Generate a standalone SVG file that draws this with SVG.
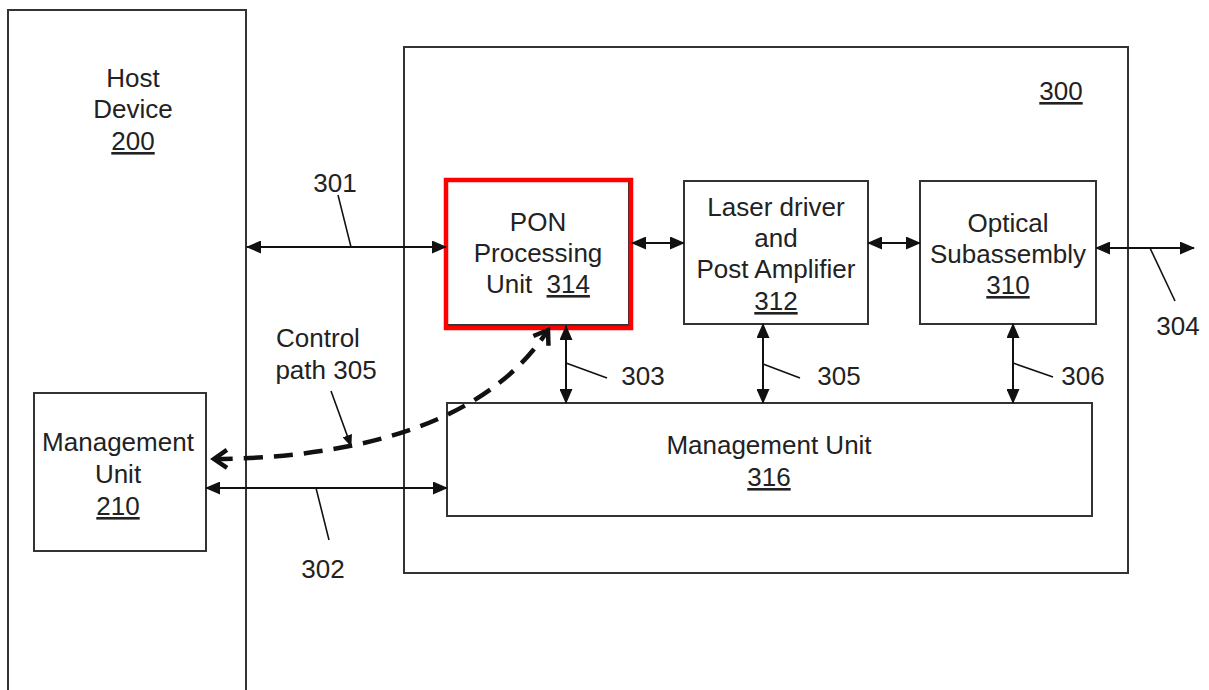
<svg xmlns="http://www.w3.org/2000/svg" width="1209" height="690" viewBox="0 0 1209 690">
<defs>
<style>
.box{fill:#fff;stroke:#333;stroke-width:2}
.red{fill:none;stroke:#f00;stroke-width:4.5}
.t{font-family:"Liberation Sans",Arial,sans-serif;font-size:26px;fill:#222;text-anchor:middle}
.u{text-decoration:underline}
.c{stroke:#111;stroke-width:2;fill:none}
.ld{stroke:#111;stroke-width:1.6;fill:none}
.dash{stroke:#111;stroke-width:4.5;fill:none;stroke-dasharray:19 11}
</style>
<marker id="arr" viewBox="0 0 15 13" refX="14" refY="6.5" markerWidth="15" markerHeight="13" markerUnits="userSpaceOnUse" orient="auto-start-reverse">
<path d="M0 0 L15 6.5 L0 13 Z" fill="#111"/>
</marker>
<marker id="sarr" viewBox="0 0 12 10" refX="11" refY="5" markerWidth="12" markerHeight="10" markerUnits="userSpaceOnUse" orient="auto">
<path d="M0 0 L12 5 L0 10 Z" fill="#111"/>
</marker>
<marker id="chev" viewBox="-16 -12 20 24" refX="0" refY="0" markerWidth="20" markerHeight="24" markerUnits="userSpaceOnUse" orient="auto-start-reverse">
<path d="M-13 -9 L0 0 L-13 9" fill="none" stroke="#111" stroke-width="4.5" stroke-linejoin="miter"/>
</marker>
</defs>
<rect width="1209" height="690" fill="#fff"/>

<g id="host200">
<rect class="box" x="8" y="10" width="238" height="700"/>
<text class="t" x="133" y="87">Host</text>
<text class="t" x="133" y="118">Device</text>
<text class="t" x="133" y="150"><tspan class="u">200</tspan></text>
</g>

<g id="mgmt210">
<rect class="box" x="34" y="393" width="172" height="158"/>
<text class="t" x="118" y="451">Management</text>
<text class="t" x="118" y="483">Unit</text>
<text class="t" x="118" y="515"><tspan class="u">210</tspan></text>
</g>

<g id="module300">
<rect class="box" x="404" y="47" width="724" height="526"/>
<text class="t" x="1061" y="100"><tspan class="u">300</tspan></text>
</g>

<g id="pon314">
<rect class="box" x="447" y="181" width="182" height="144"/>
<rect class="red" x="446" y="180" width="185" height="148"/>
<text class="t" x="538" y="231">PON</text>
<text class="t" x="538" y="262">Processing</text>
<text class="t" x="538" y="293">Unit <tspan class="u" dx="7">314</tspan></text>
</g>

<g id="laser312">
<rect class="box" x="684" y="181" width="184" height="143"/>
<text class="t" x="776" y="216">Laser driver</text>
<text class="t" x="776" y="247">and</text>
<text class="t" x="776" y="278">Post Amplifier</text>
<text class="t" x="776" y="310"><tspan class="u">312</tspan></text>
</g>

<g id="osa310">
<rect class="box" x="920" y="181" width="176" height="143"/>
<text class="t" x="1008" y="232">Optical</text>
<text class="t" x="1008" y="263">Subassembly</text>
<text class="t" x="1008" y="294"><tspan class="u">310</tspan></text>
</g>

<g id="mgmt316">
<rect class="box" x="447" y="403" width="645" height="113"/>
<text class="t" x="769" y="454">Management Unit</text>
<text class="t" x="769" y="486"><tspan class="u">316</tspan></text>
</g>

<g id="connectors">
<line class="c" x1="247" y1="247" x2="446" y2="247" marker-start="url(#arr)" marker-end="url(#arr)"/>
<line class="ld" x1="338" y1="195" x2="351" y2="247"/>
<text class="t" x="335" y="192">301</text>

<line class="c" x1="632" y1="243" x2="684" y2="243" marker-start="url(#arr)" marker-end="url(#arr)"/>
<line class="c" x1="868" y1="243" x2="920" y2="243" marker-start="url(#arr)" marker-end="url(#arr)"/>

<line class="c" x1="1096" y1="248" x2="1194" y2="248" marker-start="url(#arr)" marker-end="url(#arr)"/>
<line class="ld" x1="1150" y1="248" x2="1175" y2="301"/>
<text class="t" x="1178" y="335">304</text>

<line class="c" x1="566" y1="326" x2="566" y2="403" marker-start="url(#arr)" marker-end="url(#arr)"/>
<line class="ld" x1="566" y1="363" x2="607" y2="378"/>
<text class="t" x="643" y="385">303</text>

<line class="c" x1="763" y1="324" x2="763" y2="403" marker-start="url(#arr)" marker-end="url(#arr)"/>
<line class="ld" x1="763" y1="364" x2="800" y2="378"/>
<text class="t" x="839" y="385">305</text>

<line class="c" x1="1013" y1="324" x2="1013" y2="403" marker-start="url(#arr)" marker-end="url(#arr)"/>
<line class="ld" x1="1013" y1="363" x2="1053" y2="377"/>
<text class="t" x="1083" y="385">306</text>

<line class="c" x1="206" y1="488" x2="447" y2="488" marker-start="url(#arr)" marker-end="url(#arr)"/>
<line class="ld" x1="316" y1="488" x2="329" y2="540"/>
<text class="t" x="323" y="578">302</text>

<path class="dash" d="M 214 459 C 330 458, 480 435, 548 330" marker-start="url(#chev)" marker-end="url(#chev)"/>
<line class="ld" x1="331" y1="391" x2="351" y2="446" marker-end="url(#sarr)"/>
<text class="t" x="318" y="347">Control</text>
<text class="t" x="326" y="379">path 305</text>
</g>
</svg>
